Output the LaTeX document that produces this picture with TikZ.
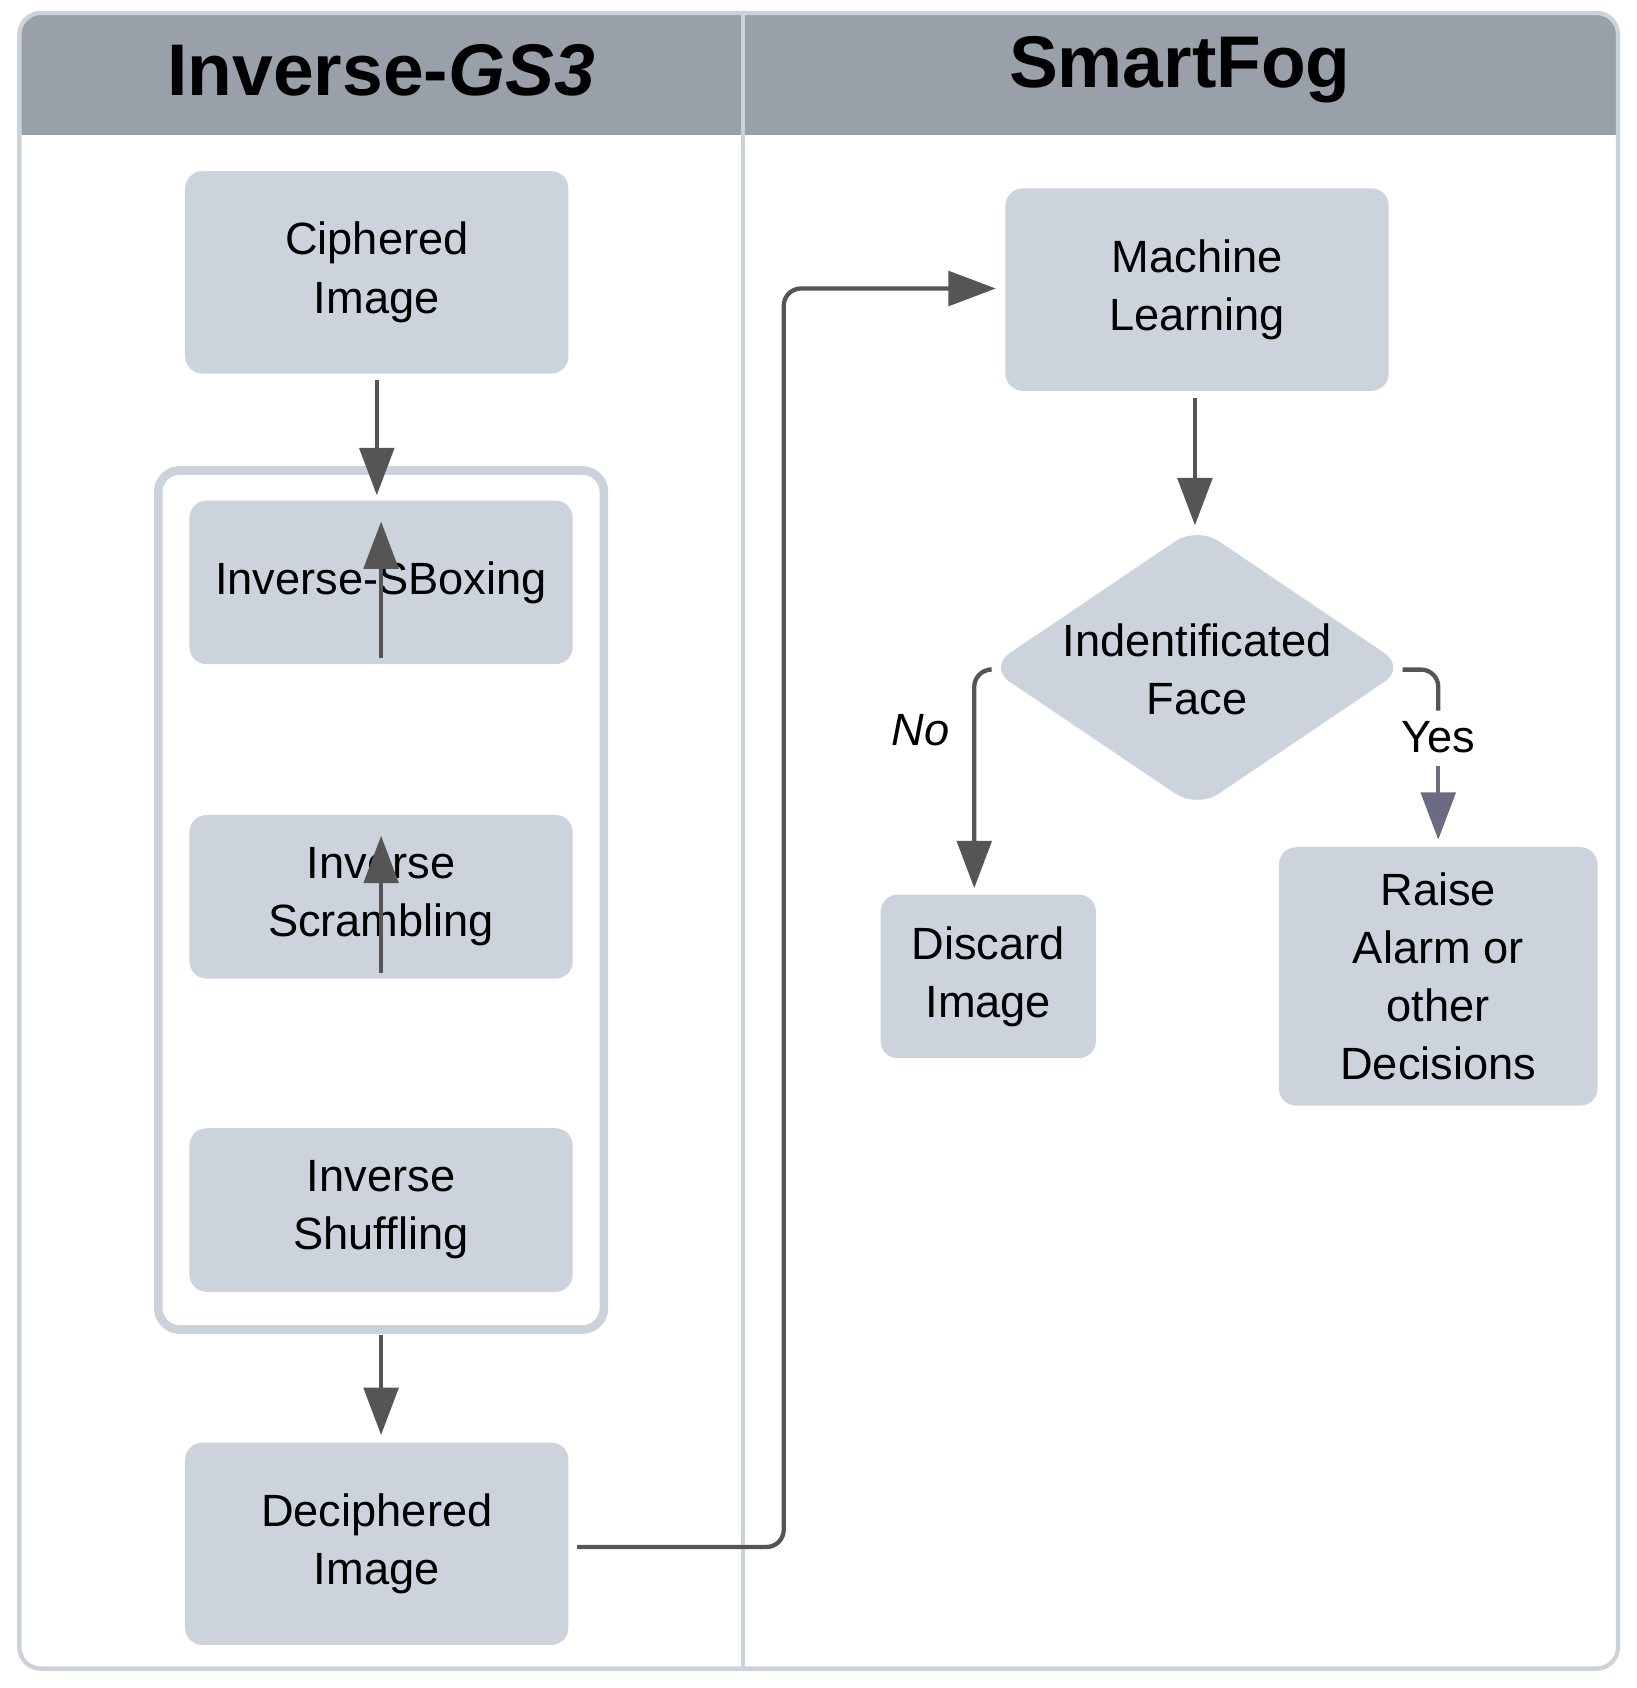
\documentclass[tikz,border=0pt]{standalone}
\usepackage{fontspec}
\setmainfont{Liberation Sans}
\usetikzlibrary{arrows.meta,shapes.geometric}
\definecolor{boxc}{HTML}{CDD3DC}
\definecolor{linec}{HTML}{CCD2DA}
\definecolor{headc}{HTML}{9AA0AA}
\definecolor{arr}{HTML}{555555}
\begin{document}
\begin{tikzpicture}[x=0.5pt,y=-0.5pt,
  box/.style={fill=boxc,rounded corners=8pt,align=center,font=\fontsize{21}{27}\selectfont,inner sep=0pt},
  ar/.style={draw=arr,line width=2pt,-{Triangle[length=22pt,width=16pt]}},
  lbl/.style={font=\fontsize{21}{27}\selectfont}]
\useasboundingbox (0,0) rectangle (1520,1568);
\fill[headc,rounded corners=10pt] (18,12) rectangle (1503,125);
\fill[headc] (18,60) rectangle (1503,125);
\draw[linec,line width=2pt,rounded corners=10pt] (18,12) rectangle (1503,1550);
\draw[linec,line width=2pt] (690,12) -- (690,1550);
\node[font=\bfseries\fontsize{34}{40}\selectfont] (t1) at (354,65) {Inverse-\textit{GS3}};
\node[font=\bfseries\fontsize{34}{40}\selectfont] (t2) at (1096,65) {SmartFog};
\node[box,minimum width=178pt,minimum height=94pt] (ci) at (350,253) {Ciphered\\Image};
\node[draw=linec,line width=4pt,rounded corners=10pt,minimum width=207pt,minimum height=399pt] (grp) at (354,836) {};
\node[box,minimum width=178pt,minimum height=76pt] (sb) at (354,541) {Inverse-SBoxing};
\node[box,minimum width=178pt,minimum height=76pt] (sc) at (354,833) {Inverse\\Scrambling};
\node[box,minimum width=178pt,minimum height=76pt] (sh) at (354,1124) {Inverse\\Shuffling};
\node[box,minimum width=178pt,minimum height=94pt] (de) at (350,1434) {Deciphered\\Image};
\node[box,minimum width=178pt,minimum height=94pt] (ml) at (1112,269) {Machine\\Learning};
\node[box,diamond,rounded corners=12pt,minimum width=194pt,minimum height=131pt] (dm) at (1112,620) {};
\node[lbl,align=center] (dmt) at (1112,622) {Indentificated\\Face};
\node[box,minimum width=100pt,minimum height=76pt] (di) at (918,907) {Discard\\Image};
\node[box,minimum width=148pt,minimum height=120pt] (ra) at (1336,907) {Raise\\Alarm or\\other\\Decisions};
\coordinate (c1b) at (350,353); \coordinate (c1e) at (350,460);
\draw[ar] (c1b) -- (c1e);
\draw[ar] (sb.south)++(0,-6) -- ++(0,-127);
\draw[ar] (sc.south)++(0,-6) -- ++(0,-127);
\coordinate (g1) at (354,1240); \coordinate (g2) at (354,1333);
\draw[ar] (g1) -- (g2);
\coordinate (m1) at (1110,370); \coordinate (m2) at (1110,488);
\draw[ar] (m1) -- (m2);
\draw[ar,rounded corners=8pt] (536,1437) -- (728,1437) -- (728,268) -- (925,268);
\draw[ar,rounded corners=8pt] (918,622) -- (905,622) -- (905,825);
\draw[draw=arr,line width=2pt,rounded corners=8pt] (1303,622) -- (1336,622) -- (1336,660);
\draw[draw=arr!70!blue!30!gray,line width=2pt,-{Triangle[length=22pt,width=16pt]}] (1336,712) -- (1336,780);
\node[lbl,font=\itshape\fontsize{21}{27}\selectfont] (no) at (855,678) {No};
\node[lbl,fill=white,inner sep=1pt] (yes) at (1336,685) {Yes};
\end{tikzpicture}
\end{document}
